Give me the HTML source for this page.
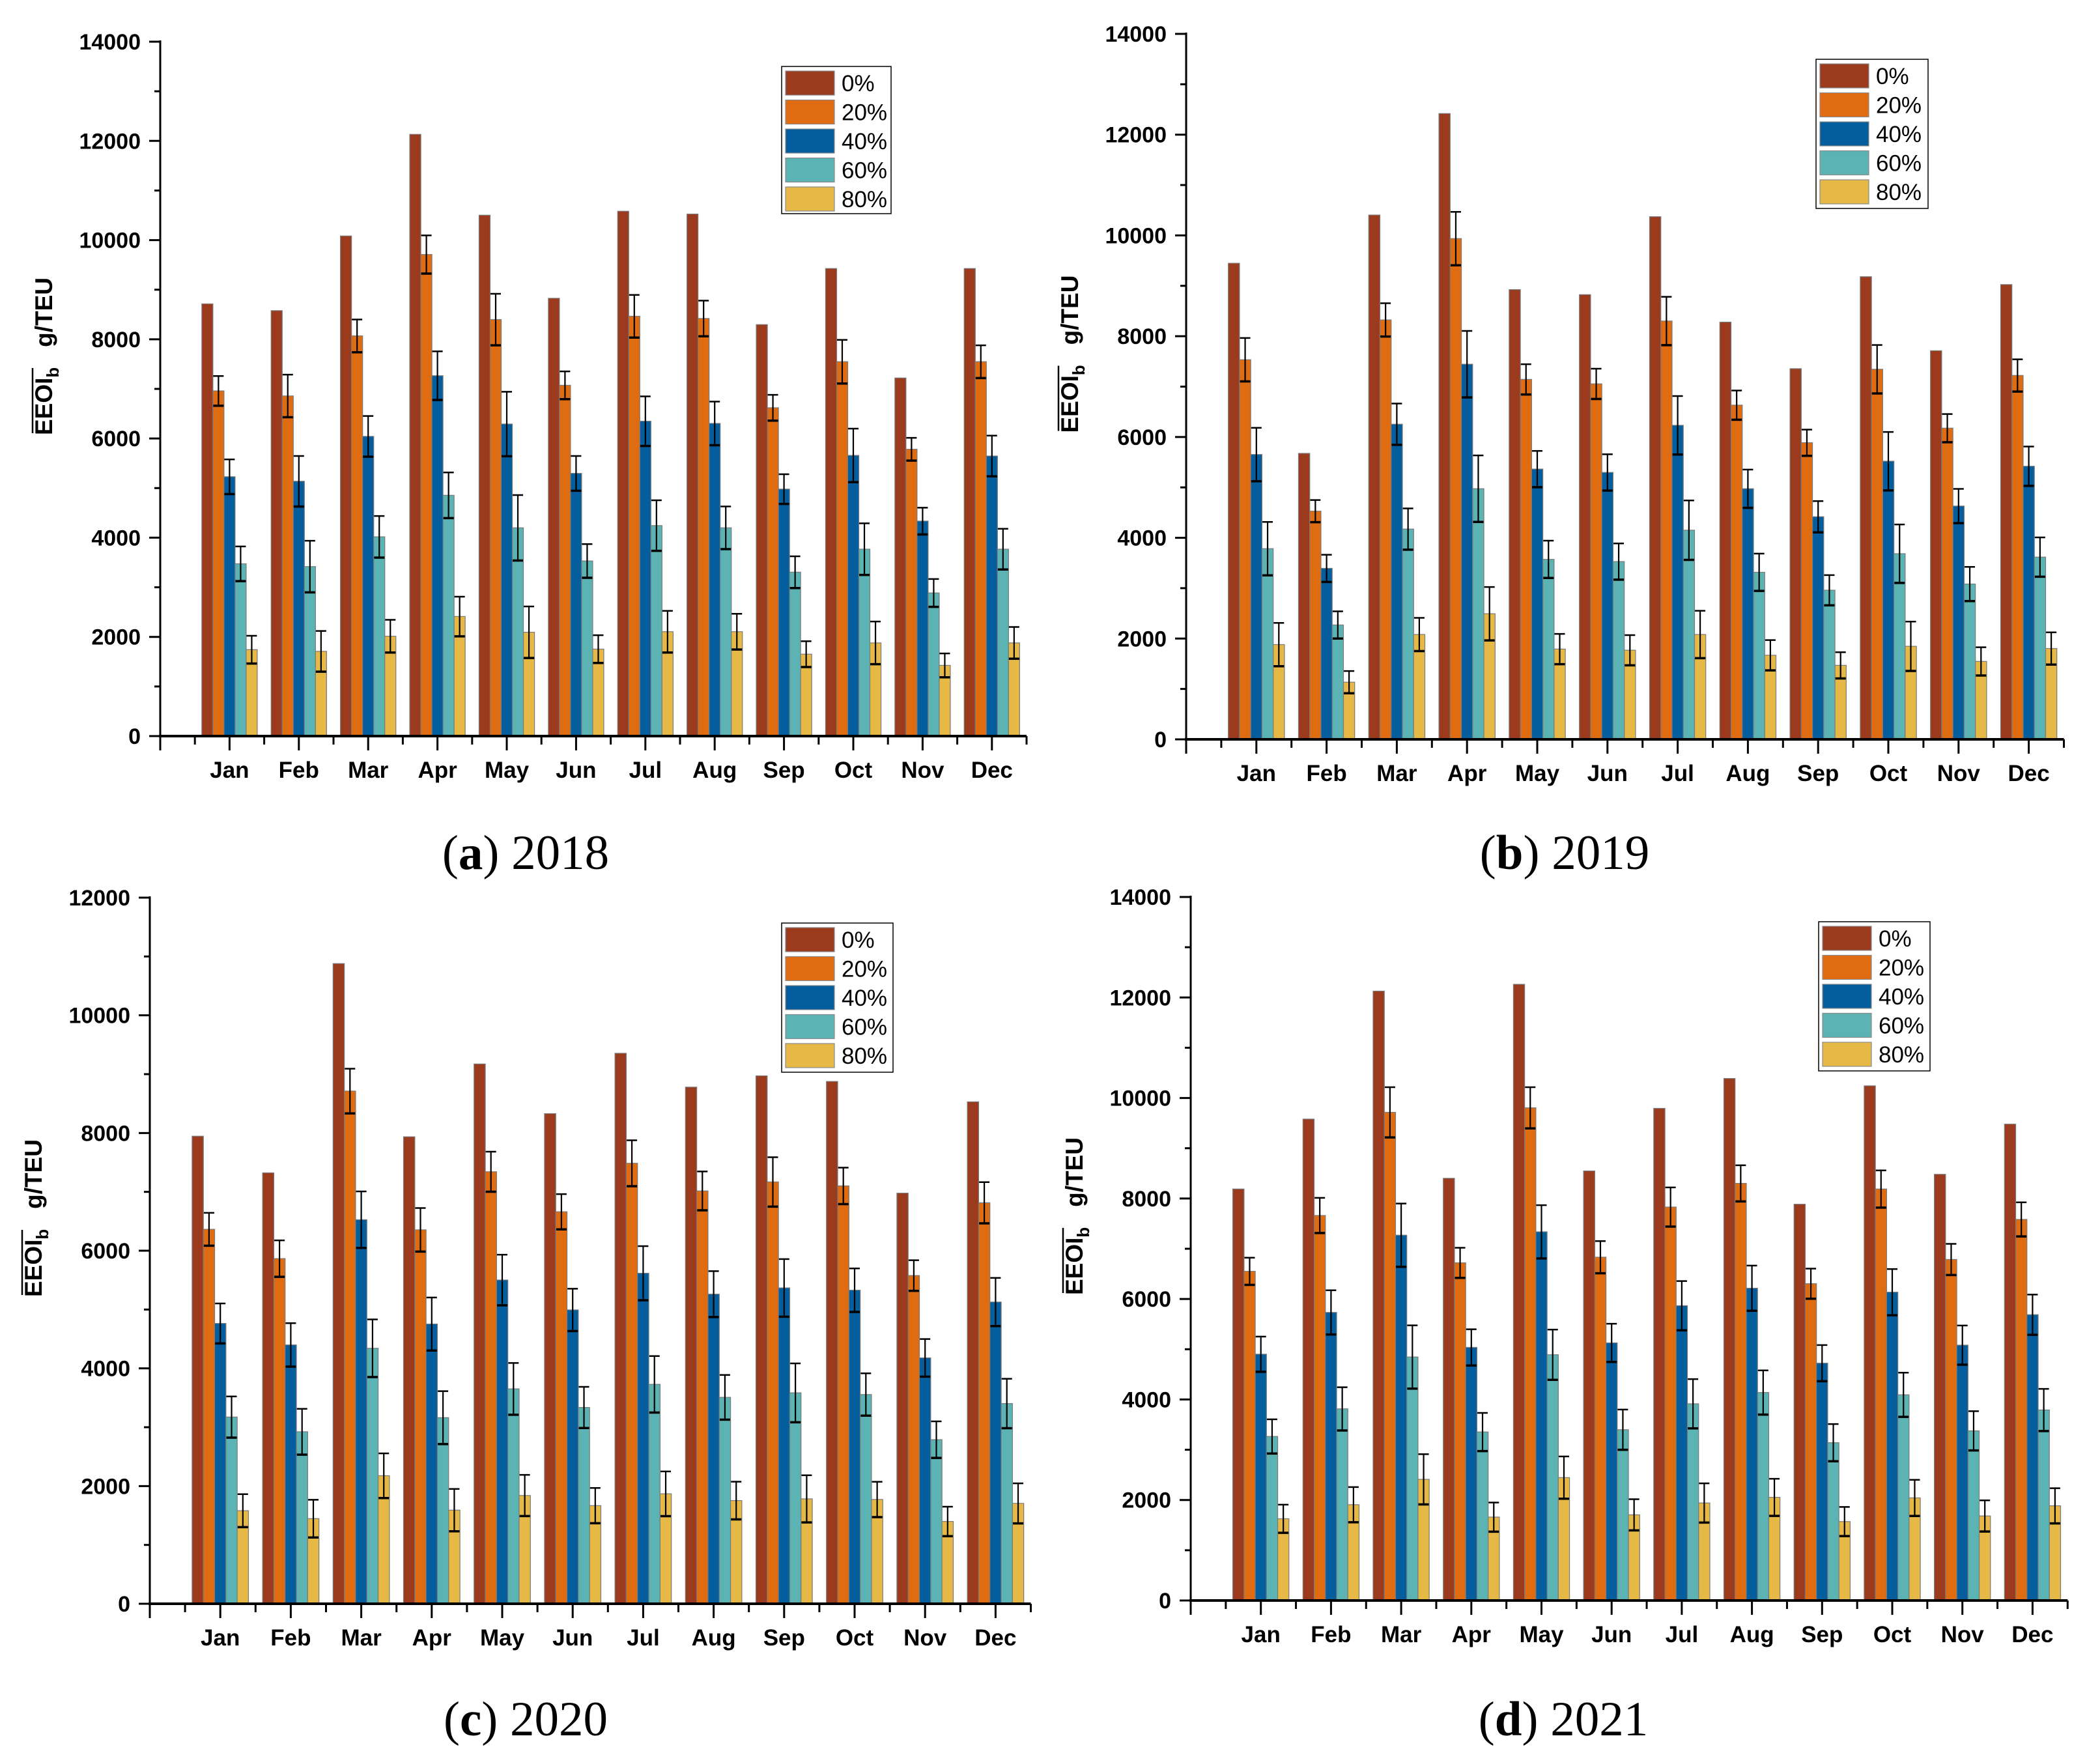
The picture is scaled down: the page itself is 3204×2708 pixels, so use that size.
<!DOCTYPE html>
<html><head><meta charset="utf-8"><title>EEOI monthly charts</title>
<style>
html,body{margin:0;padding:0;background:#fff;}
svg{display:block;}
</style></head>
<body>
<svg id="fig" xmlns="http://www.w3.org/2000/svg" width="3204" height="2708" viewBox="0 0 3204 2708"></svg>
<script>
const months = ["Jan","Feb","Mar","Apr","May","Jun","Jul","Aug","Sep","Oct","Nov","Dec"];
const seriesNames = ["0%","20%","40%","60%","80%"];
const ticks14 = [0,2000,4000,6000,8000,10000,12000,14000];
const ticks12 = [0,2000,4000,6000,8000,10000,12000];

// 2018
const v2018_0  = [8714,8578,10083,12132,10502,8827,10582,10525,8296,9427,7220,9427];
const v2018_20 = [6960,6858,8069,9710,8398,7073,8465,8420,6620,7549,5783,7549];
const v2018_40 = [5229,5138,6043,7266,6292,5297,6349,6304,4980,5659,4335,5647];
const v2018_60 = [3474,3418,4018,4855,4199,3531,4244,4199,3305,3769,2886,3769];
const v2018_80 = [1743,1709,2014,2411,2094,1754,2105,2105,1652,1879,1426,1879];
const e2018_20 = [300,430,330,385,520,280,430,360,260,440,230,330];
const e2018_40 = [350,510,410,490,650,350,500,440,300,540,270,410];
const e2018_60 = [350,520,420,460,660,340,510,430,320,520,280,410];
const e2018_80 = [280,410,330,400,520,280,420,360,260,430,240,320];
// 2019
const v2019_0  = [9448,5675,10405,12419,8925,8825,10372,8280,7356,9181,7712,9025];
const v2019_20 = [7534,4529,8324,9938,7144,7055,8302,6633,5887,7345,6176,7222];
const v2019_40 = [5653,3394,6254,7445,5364,5297,6232,4974,4418,5520,4630,5420];
const v2019_60 = [3784,2270,4173,4974,3572,3528,4151,3316,2960,3684,3083,3617];
const v2019_80 = [1881,1135,2081,2493,1792,1769,2081,1669,1469,1847,1547,1803];
const e2019_20 = [430,220,330,530,300,300,480,290,260,480,280,320];
const e2019_40 = [530,270,410,660,360,360,580,380,310,580,340,390];
const e2019_60 = [530,270,410,660,370,360,590,370,300,580,340,390];
const e2019_80 = [430,220,330,530,300,300,470,300,260,490,280,320];
// 2020
const v2020_0  = [7946,7323,10879,7936,9173,8329,9355,8780,8971,8876,6978,8530];
const v2020_20 = [6364,5866,8713,6355,7342,6662,7486,7016,7169,7102,5578,6815];
const v2020_40 = [4764,4399,6527,4754,5502,4994,5617,5262,5368,5329,4179,5128];
const v2020_60 = [3173,2923,4342,3163,3652,3336,3729,3508,3585,3556,2789,3403];
const v2020_80 = [1582,1447,2176,1591,1840,1668,1869,1754,1783,1773,1399,1706];
const e2020_20 = [280,310,380,370,340,300,390,330,420,310,260,350];
const e2020_40 = [340,370,480,450,430,360,460,390,490,370,320,410];
const e2020_60 = [350,390,490,450,440,350,480,380,500,360,310,420];
const e2020_80 = [280,320,380,360,350,300,380,320,400,300,250,340];
// 2021
const v2021_0  = [8189,9580,12127,8402,12262,8548,9794,10388,7886,10242,8481,9480];
const v2021_20 = [6551,7662,9715,6720,9805,6832,7830,8301,6305,8189,6787,7584];
const v2021_40 = [4902,5733,7270,5037,7337,5127,5867,6215,4723,6136,5082,5688];
const v2021_60 = [3265,3814,4846,3354,4891,3399,3915,4139,3141,4094,3377,3792];
const v2021_80 = [1627,1907,2412,1660,2446,1705,1941,2053,1571,2042,1683,1885];
const e2021_20 = [270,350,500,300,410,320,390,360,300,370,310,340];
const e2021_40 = [350,440,630,360,530,380,490,450,360,460,390,400];
const e2021_60 = [340,430,630,380,500,400,490,440,370,440,390,420];
const e2021_80 = [280,350,500,290,420,310,390,370,290,360,310,350];

const colors = ["#9c3a1e","#e06c12","#045d9c","#5bb3b3","#e6b845"];
const NS = "http://www.w3.org/2000/svg";
const svg = document.getElementById("fig");

function mk(tag, attrs, parent){
  const e = document.createElementNS(NS, tag);
  for (const k in attrs) e.setAttribute(k, attrs[k]);
  (parent||svg).appendChild(e);
  return e;
}

const panels = [
  {id:"2018", letter:"a", x0:246, s:106.4, y0:1130, yTop:64, max:14000, ticks:ticks14,
   vals:[v2018_0,v2018_20,v2018_40,v2018_60,v2018_80], errs:[null,e2018_20,e2018_40,e2018_60,e2018_80],
   leg:{x:1200,y:102,w:168,h:226}, cap:{x:807,y:1334}},
  {id:"2019", letter:"b", x0:1821, s:107.8, y0:1135, yTop:52, max:14000, ticks:ticks14,
   vals:[v2019_0,v2019_20,v2019_40,v2019_60,v2019_80], errs:[null,e2019_20,e2019_40,e2019_60,e2019_80],
   leg:{x:2788,y:91,w:172,h:229}, cap:{x:2402,y:1334}},
  {id:"2020", letter:"c", x0:230, s:108.2, y0:2462, yTop:1378, max:12000, ticks:ticks12,
   vals:[v2020_0,v2020_20,v2020_40,v2020_60,v2020_80], errs:[null,e2020_20,e2020_40,e2020_60,e2020_80],
   leg:{x:1200,y:1417,w:171,h:229}, cap:{x:807,y:2664}},
  {id:"2021", letter:"d", x0:1828, s:107.7, y0:2457, yTop:1377, max:14000, ticks:ticks14,
   vals:[v2021_0,v2021_20,v2021_40,v2021_60,v2021_80], errs:[null,e2021_20,e2021_40,e2021_60,e2021_80],
   leg:{x:2792,y:1415,w:171,h:229}, cap:{x:2400,y:2664}}
];

panels.forEach(p => {
  const g = mk("g", {});
  
  
  const yS = v => p.y0 - (v / p.max) * (p.y0 - p.yTop);
  const xS = i => p.x0 + (i + 1) * p.s;
  const bw = p.s * 0.16;
  const xEnd = p.x0 + 12.5 * p.s;

  const step = p.ticks[1] - p.ticks[0];
  for (let v = 0; v <= p.max; v += step / 2) {
    const major = (v % step) === 0;
    const t = mk("line", {x1:p.x0 - (major ? 17 : 9), x2:p.x0, y1:yS(v), y2:yS(v), stroke:"#000", "stroke-width":3}, g);
    
    
  }
  p.ticks.forEach(v => {
    const t = mk("text", {x:p.x0 - 30, y:yS(v) + 12, "text-anchor":"end", "font-family":"Liberation Sans, sans-serif", "font-weight":"bold", "font-size":34}, g);
    t.textContent = v;
    
    
  });

  p.vals.forEach((arr, k) => {
    arr.forEach((v, i) => {
      const x = xS(i) + (k - 2.5) * bw;
      const r = mk("rect", {x:x, y:yS(v), width:bw, height:p.y0 - yS(v), fill:colors[k], stroke:"#7a7a7a", "stroke-width":1.2}, g);
      
      
    });
  });
  p.errs.forEach((arr, k) => {
    if (!arr) return;
    arr.forEach((e, i) => {
      const v = p.vals[k][i];
      const cx = xS(i) + (k - 2) * bw;
      const eg = mk("g", {stroke:"#000"}, g);
      
      
      mk("line", {x1:cx, x2:cx, y1:yS(v + e), y2:yS(v - e), "stroke-width":2.2}, eg);
      mk("line", {x1:cx - 8, x2:cx + 8, y1:yS(v + e), y2:yS(v + e), "stroke-width":2.5}, eg);
      mk("line", {x1:cx - 8, x2:cx + 8, y1:yS(v - e), y2:yS(v - e), "stroke-width":3.5}, eg);
    });
  });

  const ya = mk("line", {x1:p.x0, x2:p.x0, y1:p.yTop - 2, y2:p.y0 + 2, stroke:"#000", "stroke-width":3}, g);
  
  
  const xa = mk("line", {x1:p.x0 - 2, x2:xEnd, y1:p.y0, y2:p.y0, stroke:"#000", "stroke-width":4}, g);
  
  
  for (let h = 0; h <= 25; h++) {
    const x = p.x0 + h * p.s / 2;
    const major = h % 2 === 0 && h > 0;
    const t = mk("line", {x1:x, x2:x, y1:p.y0, y2:p.y0 + (h === 0 ? 22 : (major ? 22 : 13)), stroke:"#000", "stroke-width":3}, g);
    
    
  }
  months.forEach((m, i) => {
    const t = mk("text", {x:xS(i), y:p.y0 + 64, "text-anchor":"middle", "font-family":"Liberation Sans, sans-serif", "font-weight":"bold", "font-size":35}, g);
    t.textContent = m;
    
    
  });

  const ym = (p.y0 + p.yTop) / 2 - 50;
  const yl = mk("text", {transform:"translate(" + (p.x0 - 166) + "," + ym + ") rotate(-90)", "text-anchor":"middle", "font-family":"Liberation Sans, sans-serif", "font-weight":"bold", "font-size":37}, g);
  
  
  const t1 = mk("tspan", {}, yl); t1.textContent = "EEOI";
  const t2 = mk("tspan", {"font-size":26, dy:10}, yl); t2.textContent = "b";
  const t3 = mk("tspan", {dy:-10}, yl); t3.textContent = "\u00a0\u00a0\u00a0g/TEU";
  const ol = mk("line", {x1:p.x0 - 196, x2:p.x0 - 196, y1:ym + 118, y2:ym + 18, stroke:"#000", "stroke-width":2.5}, g);
  
  

  const L = p.leg;
  const lg = mk("g", {}, g);
  
  
  mk("rect", {x:L.x, y:L.y, width:L.w, height:L.h, fill:"#fff", stroke:"#000", "stroke-width":1.5}, lg);
  seriesNames.forEach((n, k) => {
    const ry = L.y + 7 + k * 44.5;
    const sw = mk("rect", {x:L.x + 6, y:ry, width:75, height:37, fill:colors[k], stroke:"#8a8a8a", "stroke-width":1.2}, lg);
    
    
    const lt = mk("text", {x:L.x + 92, y:ry + 31, "font-family":"Liberation Sans, sans-serif", "font-size":35}, lg);
    lt.textContent = n;
    
    
  });

  const cap = mk("text", {x:p.cap.x, y:p.cap.y, "text-anchor":"middle", "font-family":"Liberation Serif, serif", "font-size":75}, g);
  
  
  const c1 = mk("tspan", {}, cap); c1.textContent = "(";
  const c2 = mk("tspan", {"font-weight":"bold"}, cap); c2.textContent = p.letter;
  const c3 = mk("tspan", {}, cap); c3.textContent = ") " + p.id;
});
</script>
</body></html>
